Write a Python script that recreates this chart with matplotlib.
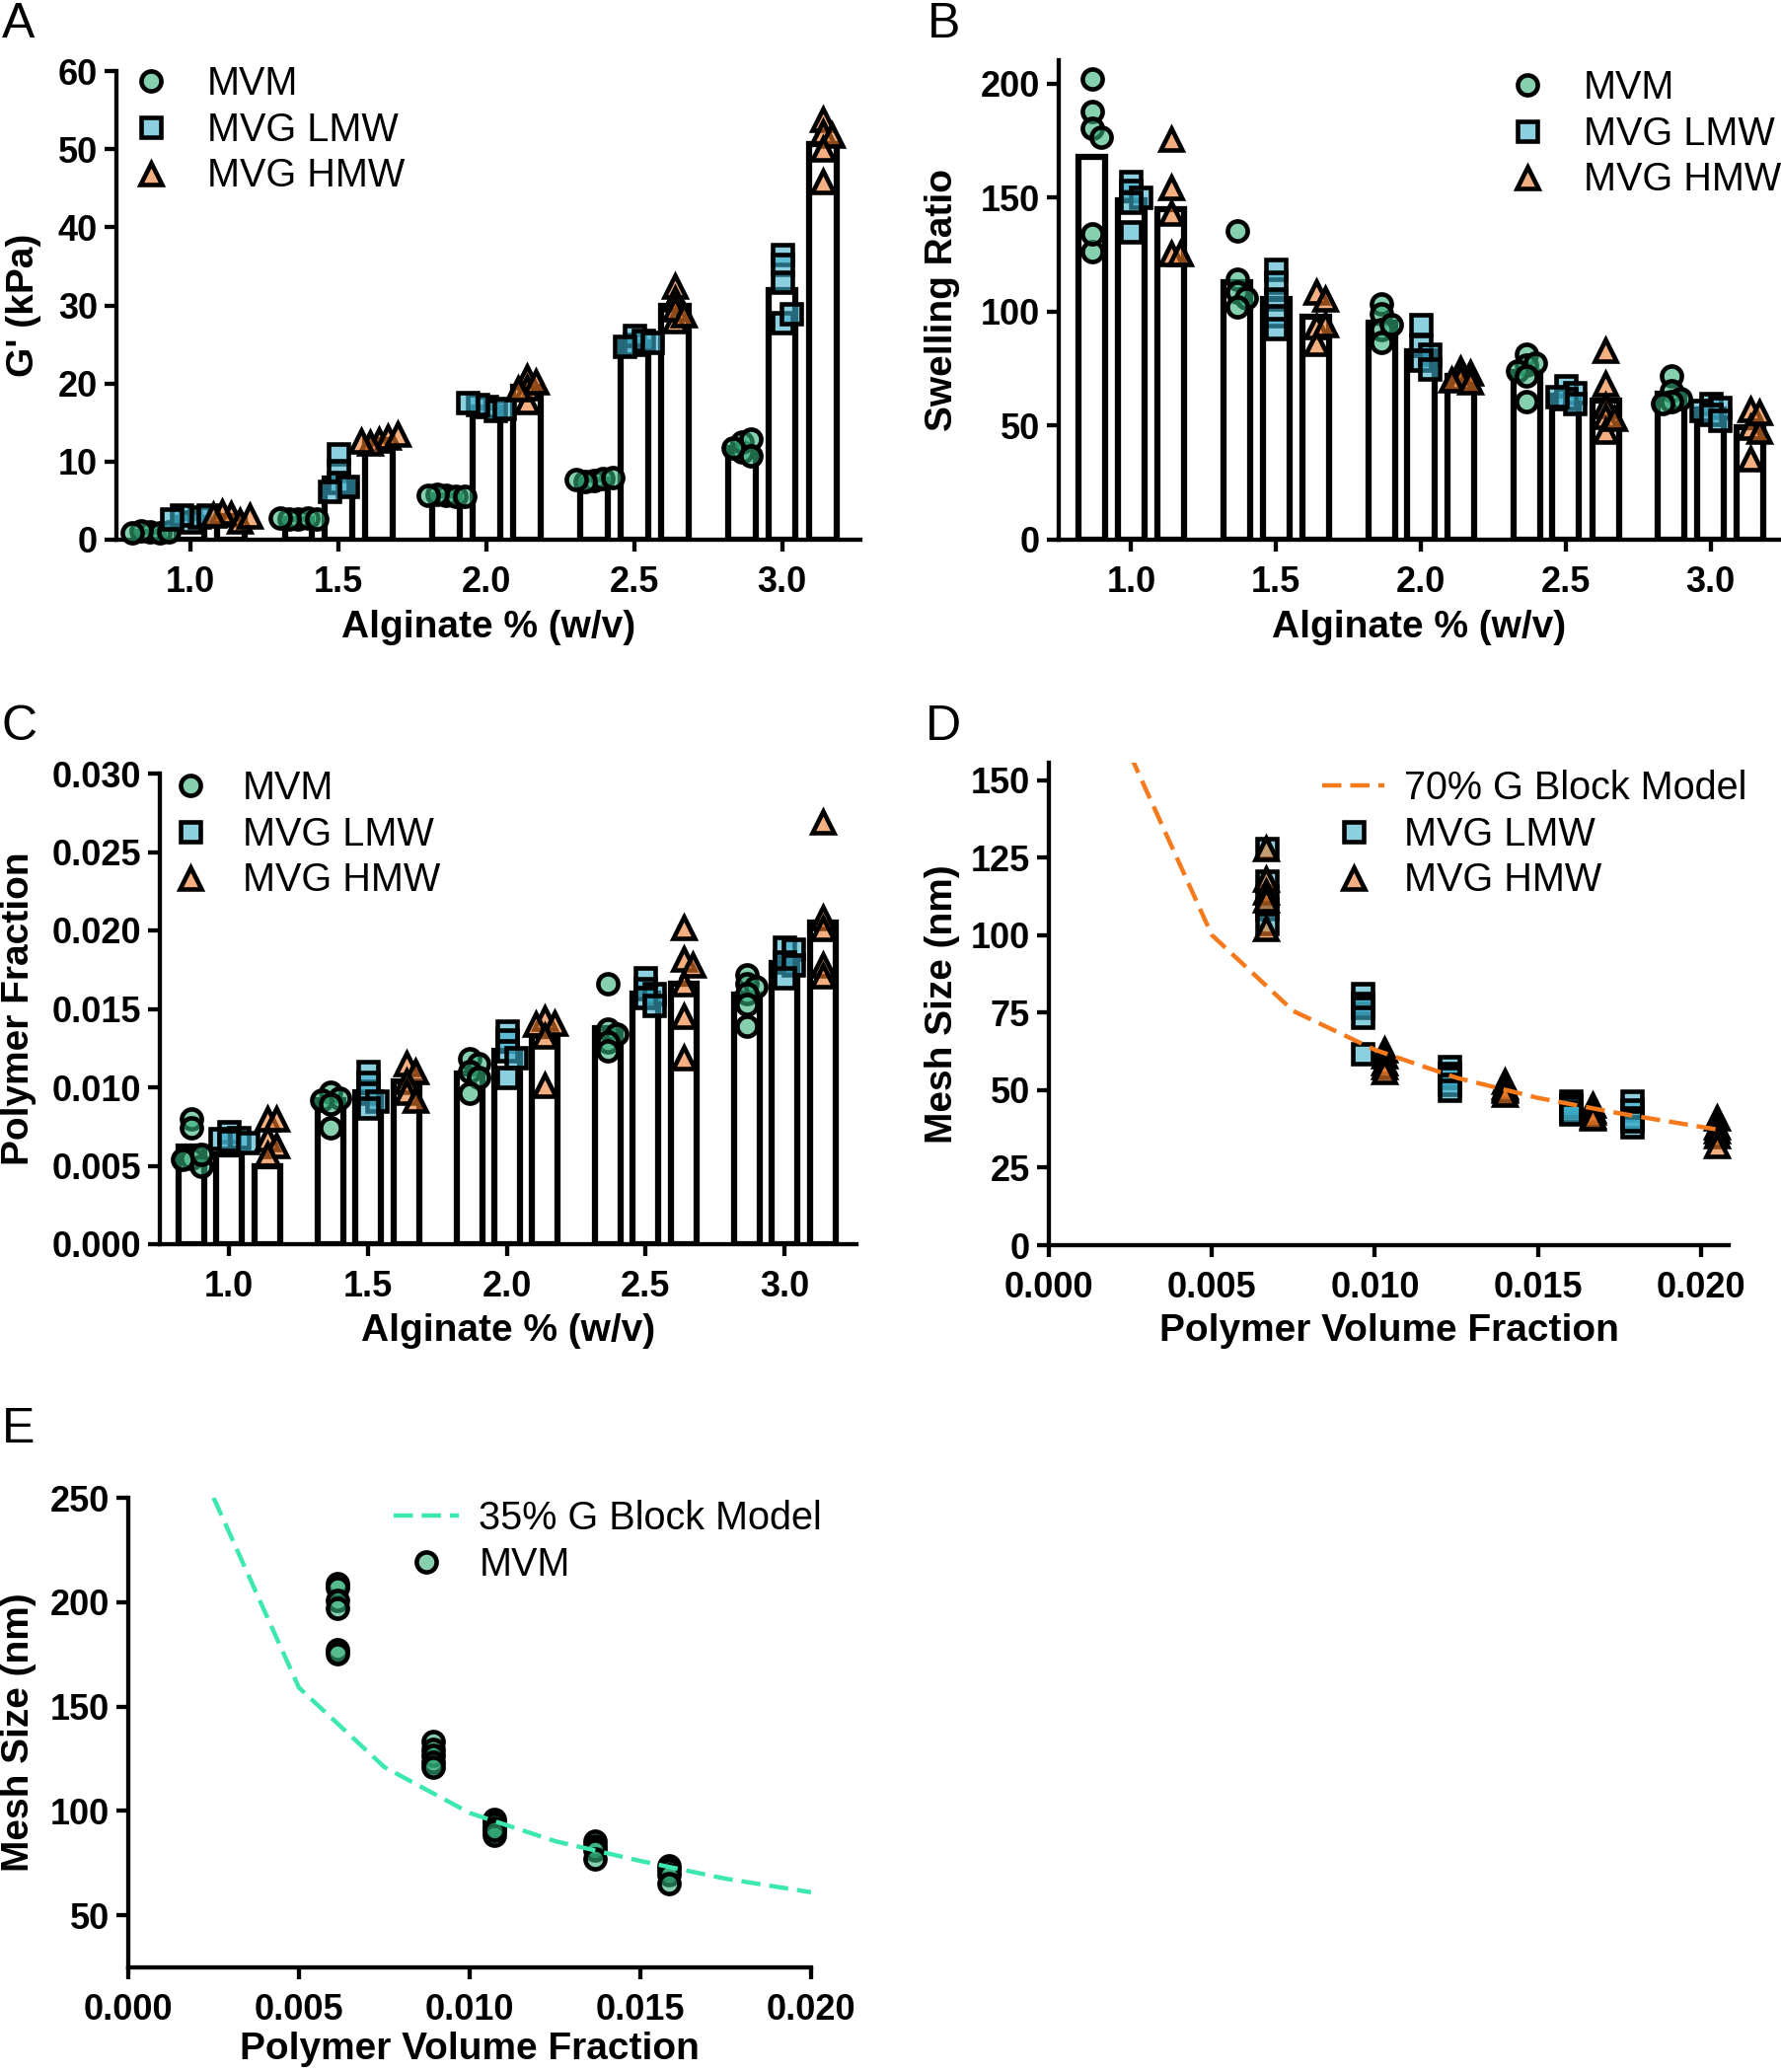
import numpy as np
import matplotlib
matplotlib.use("Agg")
import matplotlib.pyplot as plt
from matplotlib.lines import Line2D
from matplotlib.ticker import FormatStrFormatter

plt.rcParams['font.family'] = ['Liberation Sans', 'DejaVu Sans']
plt.rcParams['lines.scale_dashes'] = False

# ---------------- data ----------------
categories = ['1.0', '1.5', '2.0', '2.5', '3.0']
series = ['MVM', 'MVG LMW', 'MVG HMW']

# Panel A: G' (kPa)
A_bar_MVM = [1.0, 2.7, 5.7, 7.7, 11.8]
A_bar_LMW = [2.8, 7.8, 16.9, 25.3, 32.0]
A_bar_HMW = [3.0, 12.8, 19.6, 29.9, 50.7]
A_pts_MVM = [[1.0, 0.9, 1.1, 1.0, 0.9], [2.6, 2.8, 2.7, 2.6, 2.8], [5.7, 5.5, 5.8, 5.6, 5.7],
             [7.6, 7.8, 7.4, 7.9, 7.7], [11.3, 12.5, 12.9, 11.8, 10.8]]
A_pts_LMW = [[2.3, 2.9, 3.1, 3.2, 2.6], [11.0, 8.8, 7.3, 6.8, 6.2], [17.0, 16.5, 17.3, 16.8, 17.5],
             [25.0, 26.2, 25.5, 24.8, 25.3], [36.5, 35.2, 33.0, 27.8, 28.9]]
A_pts_HMW = [[3.3, 2.4, 3.5, 3.0, 3.1], [12.8, 13.2, 12.4, 13.5, 12.6], [20.8, 17.7, 19.5, 20.2, 19.3],
             [32.5, 30.8, 28.0, 29.5, 28.8], [53.8, 52.2, 51.8, 50.0, 45.8]]

# Panel B: Swelling ratio
B_bar_MVM = [167.8, 113.0, 95.0, 73.6, 63.9]
B_bar_LMW = [148.6, 105.6, 82.8, 63.2, 57.0]
B_bar_HMW = [144.7, 97.6, 71.6, 61.0, 49.1]
B_pts_MVM = [[201.9, 187.5, 180.4, 176.6, 126.2, 134.0], [135.5, 114.0, 108.4, 106.0, 102.0],
             [103.4, 99.1, 92.0, 86.5, 94.3], [81.3, 76.5, 77.5, 73.8, 72.0, 60.7],
             [72.0, 65.4, 61.7, 60.4, 59.8]]
B_pts_LMW = [[157.0, 153.0, 150.0, 148.0, 135.0], [118.7, 113.0, 105.6, 98.0, 92.5],
             [94.4, 85.0, 81.3, 78.5, 74.8], [67.3, 64.5, 61.7, 59.8, 62.6],
             [59.5, 57.8, 56.5, 55.0, 52.5]]
B_pts_HMW = [[175.7, 154.2, 143.0, 125.2, 125.2], [108.4, 105.6, 93.5, 94.4, 86.0],
             [75.0, 73.0, 71.0, 70.0, 69.0], [83.2, 68.2, 58.9, 54.2, 47.7, 53.3],
             [57.0, 49.5, 35.5, 47.7, 56.0]]

# Panel C: Polymer fraction
C_bar_MVM = [0.0062, 0.0092, 0.0109, 0.0138, 0.0159]
C_bar_LMW = [0.0057, 0.0097, 0.0123, 0.0160, 0.0179]
C_bar_HMW = [0.0050, 0.0104, 0.0133, 0.0166, 0.0205]
C_pts_MVM = [[0.0080, 0.0074, 0.0055, 0.0050, 0.0057, 0.0054], [0.0097, 0.0093, 0.0092, 0.0089, 0.0074],
             [0.0118, 0.0115, 0.0110, 0.0106, 0.0096], [0.0166, 0.0137, 0.0134, 0.0129, 0.0123],
             [0.0172, 0.0166, 0.0164, 0.0160, 0.0153, 0.0139]]
C_pts_LMW = [[0.0072, 0.0068, 0.0067, 0.0066, 0.0065], [0.0110, 0.0103, 0.0096, 0.0091, 0.0087],
             [0.0136, 0.0130, 0.0123, 0.0119, 0.0106], [0.0170, 0.0163, 0.0160, 0.0157, 0.0152],
             [0.0189, 0.0188, 0.0180, 0.0178, 0.0170]]
C_pts_HMW = [[0.0080, 0.0080, 0.0067, 0.0063, 0.0057], [0.0115, 0.0110, 0.0104, 0.0097, 0.0092],
             [0.0144, 0.0141, 0.0140, 0.0133, 0.0101], [0.0202, 0.0182, 0.0178, 0.0166, 0.0145, 0.0119],
             [0.0269, 0.0208, 0.0201, 0.0178, 0.0171]]

# Panel D: Mesh size vs polymer volume fraction (MVG)
D_model_x = [0.0025, 0.005, 0.0075, 0.010, 0.0125, 0.015, 0.0175, 0.0205]
D_model_y = [158.0, 100.0, 75.5, 63.0, 54.0, 47.5, 42.5, 37.3]
D_LMW_x = [0.00669, 0.00962, 0.01228, 0.01601, 0.01787]
D_LMW_y = [[127.9, 117.5, 112.7, 108.6, 103.7], [81.0, 78.0, 76.8, 73.4, 61.7],
           [57.5, 55.4, 54.0, 52.0, 49.9], [46.5, 45.1, 44.4, 43.0, 42.3],
           [46.5, 43.7, 41.0, 38.2, 40.0]]
D_HMW_x = [0.00666, 0.01028, 0.01397, 0.01667, 0.02048]
D_HMW_y = [[127.9, 118.2, 114.0, 111.3, 102.3], [63.0, 61.0, 58.9, 57.5, 56.1],
           [52.7, 51.3, 50.6, 49.9, 48.6], [45.1, 43.7, 43.0, 41.7, 41.0],
           [41.0, 38.2, 36.8, 35.4, 32.0]]

# Panel E: Mesh size vs polymer volume fraction (MVM)
E_model_x = [0.0025, 0.005, 0.0075, 0.010, 0.0125, 0.015, 0.0175, 0.020]
E_model_y = [250.0, 159.0, 121.0, 99.0, 85.5, 76.0, 67.5, 61.0]
E_MVM_x = [0.00612, 0.00893, 0.01072, 0.01368, 0.01585]
E_MVM_y = [[209.0, 207.0, 201.0, 197.0, 177.0, 175.5], [133.4, 129.6, 126.4, 123.2, 121.0],
           [95.9, 93.8, 91.7, 88.5, 90.5], [85.4, 83.3, 81.2, 77.0],
           [73.8, 71.7, 69.6, 65.4]]

# ---------------- style ----------------
W, H = 1806, 2100
fig = plt.figure(figsize=(W / 100, H / 100), dpi=100)

FACE = {'MVM': (53 / 255, 175 / 255, 123 / 255, 0.6),
        'MVG LMW': (63 / 255, 175 / 255, 203 / 255, 0.6),
        'MVG HMW': (238 / 255, 123 / 255, 43 / 255, 0.6)}
MARK = {'MVM': 'o', 'MVG LMW': 's', 'MVG HMW': '^'}
MSZ = {'MVM': 14.5, 'MVG LMW': 14.0, 'MVG HMW': 15.5}
MEW = 3.3
AX_LW = 3.1
BAR_LW = 4.5
TICK_FS = 26
LAB_FS = 28
LEG_FS = 28.5
LET_FS = 36
OFFSETS = [-0.27, 0.0, 0.275]
BAR_W = 0.185


def add_axes_px(l, t, r, b):
    return fig.add_axes([l / W, 1 - b / H, (r - l) / W, (b - t) / H])


def style_axes(ax):
    for s in ['top', 'right']:
        ax.spines[s].set_visible(False)
    for s in ['left', 'bottom']:
        ax.spines[s].set_linewidth(AX_LW)
    ax.tick_params(axis='both', which='major', length=8.6, width=AX_LW,
                   labelsize=TICK_FS, direction='out')
    ax.tick_params(axis='x', pad=10)
    ax.tick_params(axis='y', pad=5)
    ax.minorticks_off()


def bold_ticks(ax):
    for lab in ax.get_xticklabels() + ax.get_yticklabels():
        lab.set_fontweight('bold')


def set_labels(ax, xl, yl, xpos, ypos):
    ax.set_xlabel(xl, fontsize=LAB_FS, fontweight='bold')
    ax.set_ylabel(yl, fontsize=LAB_FS, fontweight='bold')
    ax.xaxis.set_label_coords(0.5, xpos)
    ax.yaxis.set_label_coords(ypos, 0.5)
    ax.xaxis.label.set_va('center')
    ax.yaxis.label.set_va('center')
    ax.yaxis.label.set_ha('center')


def swarm(ax, xc, values, d_px=22.0):
    """Spread overlapping points sideways (column scatter)."""
    trans = ax.transData
    inv = trans.inverted()
    xc_px = trans.transform((xc, 0))[0]
    step = 0.42 * d_px
    thr = 0.40 * d_px
    placed = []
    xs = []
    cands = [0.0]
    for i in range(1, 8):
        cands += [i * step, -i * step]
    for v in values:
        ypx = trans.transform((xc, v))[1]
        chosen = 0.0
        for c in cands:
            if all((xc_px + c - px) ** 2 + (ypx - py) ** 2 >= thr ** 2 for px, py in placed):
                chosen = c
                break
        placed.append((xc_px + chosen, ypx))
        xs.append(inv.transform((xc_px + chosen, ypx))[0])
    return xs


def legend(ax, names, left_px, top_px, handlelength, textpad, line_color=None, line_label=None):
    handles = []
    if line_label is not None:
        handles.append(Line2D([], [], color=line_color, lw=3.2, linestyle=(0, (14, 6.5)),
                              label=line_label))
    for n in names:
        handles.append(Line2D([], [], linestyle='none', marker=MARK[n], markersize=MSZ[n],
                              markeredgewidth=MEW, markeredgecolor='black',
                              markerfacecolor=FACE[n], label=n))
    ax.legend(handles=handles, loc='upper left', bbox_to_anchor=(left_px / W, 1 - top_px / H),
              bbox_transform=fig.transFigure, frameon=False, fontsize=LEG_FS,
              borderpad=0, borderaxespad=0, handlelength=handlelength,
              handletextpad=textpad, labelspacing=0.22, handleheight=0.7)


def bar_panel(ax, bars, pts, xmax, ylim, yticks, fmt):
    x = np.arange(len(categories))
    ax.set_xlim(-0.5, xmax)
    ax.set_ylim(*ylim)
    for k, name in enumerate(series):
        ax.bar(x + OFFSETS[k], bars[k], width=BAR_W, color='white', edgecolor='black',
               linewidth=BAR_LW, zorder=2)
    for k, name in enumerate(series):
        for i in range(len(categories)):
            xs = swarm(ax, x[i] + OFFSETS[k], pts[k][i])
            ax.plot(xs, pts[k][i], linestyle='none', marker=MARK[name], markersize=MSZ[name],
                    markeredgewidth=MEW, markeredgecolor='black', markerfacecolor=FACE[name],
                    zorder=3 + k, clip_on=False)
    ax.set_xticks(x)
    ax.set_xticklabels(categories)
    ax.set_yticks(yticks)
    ax.yaxis.set_major_formatter(FormatStrFormatter(fmt))


# ---------------- Panel A ----------------
axA = add_axes_px(118, 72, 872, 547)
style_axes(axA)
bar_panel(axA, [A_bar_MVM, A_bar_LMW, A_bar_HMW], [A_pts_MVM, A_pts_LMW, A_pts_HMW],
          4.53, (0, 60), np.arange(0, 61, 10), '%d')
set_labels(axA, 'Alginate % (w/v)', "G' (kPa)", -0.187, -0.125)
legend(axA, series, 133, 66, 1.0, 0.95)
bold_ticks(axA)

# ---------------- Panel B ----------------
axB = add_axes_px(1073, 61.4, 1804, 547)
style_axes(axB)
bar_panel(axB, [B_bar_MVM, B_bar_LMW, B_bar_HMW], [B_pts_MVM, B_pts_LMW, B_pts_HMW],
          4.48, (0, 210), np.arange(0, 201, 50), '%d')
set_labels(axB, 'Alginate % (w/v)', 'Swelling Ratio', -0.183, -0.161)
legend(axB, series, 1528, 70, 1.0, 0.95)
bold_ticks(axB)

# ---------------- Panel C ----------------
axC = add_axes_px(162, 784, 868, 1261)
style_axes(axC)
bar_panel(axC, [C_bar_MVM, C_bar_LMW, C_bar_HMW], [C_pts_MVM, C_pts_LMW, C_pts_HMW],
          4.52, (0, 0.030), np.arange(0, 0.0301, 0.005), '%.3f')
set_labels(axC, 'Alginate % (w/v)', 'Polymer Fraction', -0.184, -0.2025)
legend(axC, series, 173, 780, 1.0, 0.85)
bold_ticks(axC)

# ---------------- Panel D ----------------
axD = add_axes_px(1063, 773, 1752, 1262)
style_axes(axD)
axD.set_xlim(0, 0.02085)
axD.set_ylim(0, 155.6)
axD.plot(D_model_x, D_model_y, color='#f57a1c', lw=3.2, linestyle=(0, (14, 6.5)), zorder=5)
for i in range(len(D_LMW_x)):
    axD.plot([D_LMW_x[i]] * len(D_LMW_y[i]), D_LMW_y[i], linestyle='none', marker='s',
             markersize=MSZ['MVG LMW'], markeredgewidth=MEW, markeredgecolor='black',
             markerfacecolor=FACE['MVG LMW'], zorder=3, clip_on=False)
for i in range(len(D_HMW_x)):
    axD.plot([D_HMW_x[i]] * len(D_HMW_y[i]), D_HMW_y[i], linestyle='none', marker='^',
             markersize=MSZ['MVG HMW'], markeredgewidth=MEW, markeredgecolor='black',
             markerfacecolor=FACE['MVG HMW'], zorder=4, clip_on=False)
axD.set_xticks(np.arange(0, 0.0201, 0.005))
axD.set_yticks(np.arange(0, 151, 25))
axD.xaxis.set_major_formatter(FormatStrFormatter('%.3f'))
axD.yaxis.set_major_formatter(FormatStrFormatter('%d'))
set_labels(axD, 'Polymer Volume Fraction', 'Mesh Size (nm)', -0.178, -0.157)
legend(axD, ['MVG LMW', 'MVG HMW'], 1340, 780, 1.6, 0.5,
       line_color='#f57a1c', line_label='70% G Block Model')
bold_ticks(axD)

# ---------------- Panel E ----------------
axE = add_axes_px(130, 1518, 822, 1994)
style_axes(axE)
axE.set_xlim(0, 0.020)
axE.set_ylim(25, 250)
axE.plot(E_model_x, E_model_y, color='#3de8b0', lw=3.2, linestyle=(0, (14, 6.5)), zorder=5)
for i in range(len(E_MVM_x)):
    axE.plot([E_MVM_x[i]] * len(E_MVM_y[i]), E_MVM_y[i], linestyle='none', marker='o',
             markersize=MSZ['MVM'], markeredgewidth=MEW, markeredgecolor='black',
             markerfacecolor=FACE['MVM'], zorder=3, clip_on=False)
axE.set_xticks(np.arange(0, 0.0201, 0.005))
axE.set_yticks(np.arange(50, 251, 50))
axE.xaxis.set_major_formatter(FormatStrFormatter('%.3f'))
axE.yaxis.set_major_formatter(FormatStrFormatter('%d'))
set_labels(axE, 'Polymer Volume Fraction', 'Mesh Size (nm)', -0.174, -0.160)
legend(axE, ['MVM'], 399, 1520, 1.68, 0.5,
       line_color='#3de8b0', line_label='35% G Block Model')
bold_ticks(axE)

# ---------------- panel letters ----------------
for letter, xpx, ypx in [('A', 2, 38), ('B', 940, 38), ('C', 2, 750), ('D', 938, 750), ('E', 2, 1462)]:
    fig.text(xpx / W, 1 - ypx / H, letter, fontsize=LET_FS, ha='left', va='baseline')

fig.savefig('out.png', dpi=100)
